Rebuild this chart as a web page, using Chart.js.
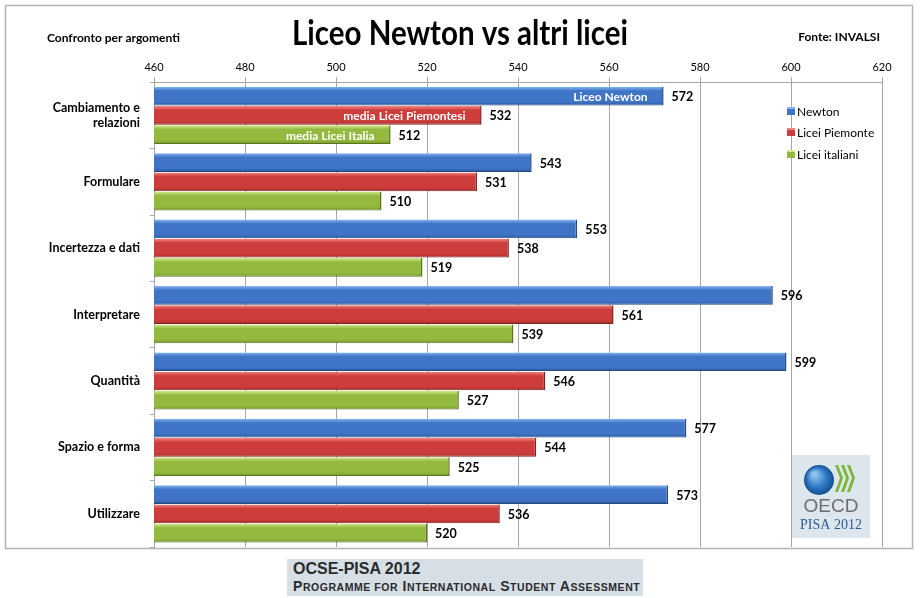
<!doctype html>
<html lang="it">
  <head>
    <meta charset="utf-8">
    <title>Liceo Newton vs altri licei</title>
    <style>
      * { margin: 0; padding: 0; }
      body { width: 920px; height: 598px; background: #fff; position: relative; overflow: hidden; }
      .chartBox { position: absolute; left: 0; top: 0; width: 920px; height: 552px; }
      .footer {
        position: absolute; left: 287px; top: 559px; width: 356px; height: 37px;
        background: #d6dee6; font-family: "Liberation Sans", Arial, sans-serif; font-weight: bold; color: #2b2b2b;
      }
      .footer .l1 { position: absolute; left: 6px; top: 1px; font-size: 16px; }
      .footer .l2 { position: absolute; left: 6px; top: 19px; font-size: 14px; letter-spacing: 0.55px; white-space: nowrap; }
      .footer .sc { font-size: 10.5px; }
    </style>
  </head>
  <body>
    <div class="chartBox"><canvas id="myChart" width="920" height="552"></canvas></div>
    <div class="footer">
      <div class="l1">OCSE-PISA 2012</div>
      <div class="l2">P<span class="sc">ROGRAMME FOR</span> I<span class="sc">NTERNATIONAL</span> S<span class="sc">TUDENT</span> A<span class="sc">SSESSMENT</span></div>
    </div>
    <script src="https://cdn.jsdelivr.net/npm/chart.js"></script>
    <script>
    // data
    const categories = ['Cambiamento e relazioni', 'Formulare', 'Incertezza e dati', 'Interpretare', 'Quantità', 'Spazio e forma', 'Utilizzare'];
    const newton = [572, 543, 553, 596, 599, 577, 573];
    const piemonte = [532, 531, 538, 561, 546, 544, 536];
    const italia = [512, 510, 519, 539, 527, 525, 520];
    const seriesNames = ['Newton', 'Licei Piemonte', 'Licei italiani'];
    const innerLabels = ['Liceo Newton', 'media Licei Piemontesi', 'media Licei Italia'];
    const xTicks = [460, 480, 500, 520, 540, 560, 580, 600, 620];

    const FONT = 'Lato, "Open Sans", sans-serif';
    const colors = [
      { top: '#86b6f0', mid: '#3f74c6', bot: '#2c5aa0', border: '#24497f' },
      { top: '#f48482', mid: '#cc3d3b', bot: '#a82c2a', border: '#7e2220' },
      { top: '#d3e98e', mid: '#93b93e', bot: '#76962c', border: '#5b7422' }
    ];

    // paints each bar with a vertical gradient
    const barGradient = {
      id: 'barGradient',
      beforeDatasetsDraw(chart) {
        chart.data.datasets.forEach((ds, i) => {
          chart.getDatasetMeta(i).data.forEach(bar => {
            const h = bar.height;
            const top = bar.y - h / 2;
            const g = chart.ctx.createLinearGradient(0, top, 0, top + h);
            g.addColorStop(0, colors[i].top);
            g.addColorStop(0.22, colors[i].mid);
            g.addColorStop(0.8, colors[i].mid);
            g.addColorStop(1, colors[i].bot);
            bar.options = Object.assign({}, bar.options, { backgroundColor: g });
          });
        });
      }
    };

    const decorations = {
      id: 'decorations',
      beforeDraw(chart) {
        const ctx = chart.ctx;
        ctx.save();
        ctx.fillStyle = '#fff';
        ctx.fillRect(0, 0, chart.width, chart.height);
        ctx.strokeStyle = '#b4b4b4';
        ctx.lineWidth = 1.5;
        ctx.strokeRect(5.5, 5.5, 907, 543);
        ctx.restore();
      },
      afterDatasetsDraw(chart) {
        const ctx = chart.ctx;
        ctx.save();
        // value labels
        ctx.textBaseline = 'middle';
        chart.data.datasets.forEach((ds, i) => {
          chart.getDatasetMeta(i).data.forEach((bar, j) => {
            ctx.fillStyle = '#000';
            ctx.font = 'bold 12.5px ' + FONT;
            ctx.textAlign = 'left';
            ctx.fillText(ds.data[j], bar.x + 8, bar.y + 1);
            if (j === 0) {
              ctx.fillStyle = '#fff';
              ctx.textAlign = 'right';
              ctx.font = 'bold 12px ' + FONT;
              ctx.fillText(innerLabels[i], bar.x - 16, bar.y + 1);
            }
          });
        });
        // legend
        const lx = 787;
        const ly = [111, 132, 154];
        chart.data.datasets.forEach((ds, i) => {
          ctx.fillStyle = colors[i].mid;
          ctx.fillRect(lx, ly[i] - 4, 8, 8);
          ctx.fillStyle = colors[i].top;
          ctx.fillRect(lx, ly[i] - 4, 8, 2);
          ctx.fillStyle = '#000';
          ctx.textAlign = 'left';
          ctx.font = '12px ' + FONT;
          ctx.fillText(ds.label, lx + 10, ly[i] + 1);
        });
        // OECD logo
        const bx = 792, by = 455, bw = 78, bh = 83;
        ctx.fillStyle = '#dde6ec';
        ctx.fillRect(bx, by, bw, bh);
        const gx = bx + 27, gy = by + 25;
        const rg = ctx.createRadialGradient(gx - 5, gy - 6, 2, gx, gy, 15);
        rg.addColorStop(0, '#8fc3ef');
        rg.addColorStop(0.6, '#2f78c4');
        rg.addColorStop(1, '#144f92');
        ctx.fillStyle = rg;
        ctx.beginPath();
        ctx.arc(gx, gy, 15, 0, Math.PI * 2);
        ctx.fill();
        ctx.fillStyle = '#7bb837';
        [0, 6, 12].forEach(d => {
          ctx.beginPath();
          ctx.moveTo(bx + 43 + d, by + 10);
          ctx.lineTo(bx + 46 + d, by + 10);
          ctx.lineTo(bx + 51 + d, by + 23);
          ctx.lineTo(bx + 46 + d, by + 37);
          ctx.lineTo(bx + 43 + d, by + 37);
          ctx.lineTo(bx + 48 + d, by + 23);
          ctx.closePath();
          ctx.fill();
        });
        ctx.fillStyle = '#6e6e6e';
        ctx.textAlign = 'center';
        ctx.font = '19px "Liberation Sans", Arial, sans-serif';
        ctx.fillText('OECD', bx + bw / 2, by + 52);
        ctx.fillStyle = '#2a5d95';
        ctx.font = '14px "Liberation Serif", serif';
        ctx.fillText('PISA 2012', bx + bw / 2, by + 70);
        ctx.restore();
      },
      afterDraw(chart) {
        const ctx = chart.ctx;
        ctx.save();
        ctx.fillStyle = '#000';
        ctx.textBaseline = 'middle';
        ctx.font = 'bold 12px ' + FONT;
        ctx.textAlign = 'left';
        ctx.fillText('Confronto per argomenti', 47, 38);
        ctx.textAlign = 'right';
        ctx.fillText('Fonte: INVALSI', 880, 37);
        // title, squeezed to the width of the original
        ctx.font = 'bold 35px ' + FONT;
        const title = 'Liceo Newton vs altri licei';
        const sx = 336 / ctx.measureText(title).width;
        ctx.translate(460, 34);
        ctx.scale(sx, 1);
        ctx.textAlign = 'center';
        ctx.fillText(title, 0, 0);
        ctx.restore();
      }
    };

    const makeSet = (i, values) => ({
      label: seriesNames[i],
      data: values,
      backgroundColor: colors[i].mid,
      borderColor: colors[i].border,
      borderWidth: { top: 0, bottom: 1, left: 0, right: 1.5 },
      borderSkipped: false,
      categoryPercentage: 0.87,
      barPercentage: 0.97
    });

    const config = {
      type: 'bar',
      data: {
        labels: categories.map(c => c === 'Cambiamento e relazioni' ? ['Cambiamento e', 'relazioni'] : c),
        datasets: [makeSet(0, newton), makeSet(1, piemonte), makeSet(2, italia)]
      },
      options: {
        indexAxis: 'y',
        responsive: false,
        maintainAspectRatio: false,
        animation: false,
        layout: { padding: { left: 0, right: 38, top: 58, bottom: 5 } },
        plugins: { legend: { display: false }, tooltip: { enabled: false } },
        scales: {
          x: {
            position: 'top',
            min: 460,
            max: 620,
            afterBuildTicks: axis => { axis.ticks = xTicks.map(v => ({ value: v })); },
            grid: { color: '#a6a6a6', tickLength: 5, tickColor: '#a6a6a6' },
            border: { color: '#a6a6a6' },
            ticks: { color: '#000', font: { family: FONT, size: 11 }, padding: 3 }
          },
          y: {
            afterFit: axis => {
              axis.width = 154;
              axis.paddingTop = 0;
              axis.paddingBottom = 0;
            },
            grid: { offset: true, drawOnChartArea: false, tickLength: 4, color: '#a6a6a6' },
            border: { color: '#a6a6a6' },
            ticks: { color: '#000', font: { family: FONT, size: 12.5, weight: 'bold' }, padding: 10 }
          }
        }
      },
      plugins: [barGradient, decorations]
    };

    const myChart = new Chart(document.getElementById('myChart'), config);
    </script>
  </body>
</html>
